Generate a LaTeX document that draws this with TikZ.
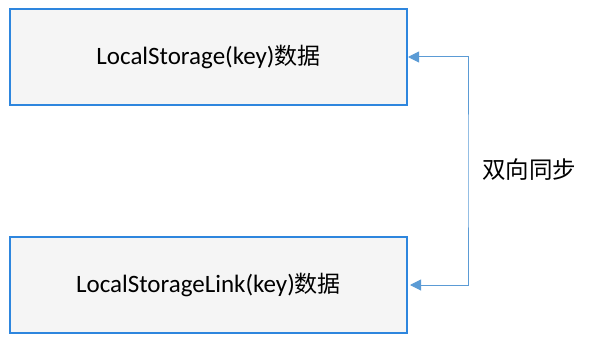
\documentclass[tikz,border=0pt]{standalone}
\usepackage{fontspec}
\setmainfont{Carlito}
\newfontfamily\cjk{Noto Sans CJK SC}
\usepackage{tikz}
\usetikzlibrary{arrows.meta, positioning, calc}
\definecolor{boxblue}{HTML}{2E86DE}
\definecolor{boxfill}{HTML}{F5F5F5}
\definecolor{linkblue}{HTML}{5B9BD5}

\begin{document}
\begin{tikzpicture}[
  x=1pt, y=1pt,
  box/.style={draw=boxblue, line width=2pt, fill=boxfill, minimum width=397pt,
              minimum height=96pt, inner sep=0pt, font=\fontsize{25}{28}\selectfont},
  arrow/.style={{Triangle[length=11pt,width=11pt]}-{Triangle[length=11pt,width=11pt]}, line width=1pt, linkblue}
]
\useasboundingbox (0,0) rectangle (589,-345);

\node[box] (L1) at (208.5,-57) {LocalStorage(key){\cjk\fontsize{23}{28}\selectfont 数据}};
\node[box] (L2) at (208.5,-285) {LocalStorageLink(key){\cjk\fontsize{23}{28}\selectfont 数据}};

\coordinate (turn) at (468,-171);
\node[anchor=west, inner sep=0pt, font=\cjk\fontsize{23.5}{28}\selectfont] (sync) at (482,-170) {双向同步};

\draw[arrow, shorten >=2pt] (L1.east) -| (turn) |- (L2.east);
\end{tikzpicture}
\end{document}
